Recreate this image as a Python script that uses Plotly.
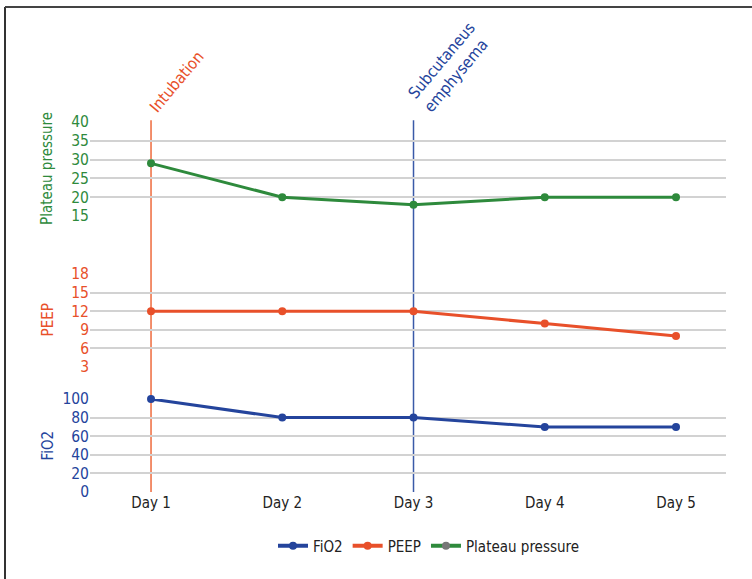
import plotly.graph_objects as go

days = ["Day 1", "Day 2", "Day 3", "Day 4", "Day 5"]
fio2 = [100, 80, 80, 70, 70]
peep = [12, 12, 12, 10, 8]
plateau = [29, 20, 18, 20, 20]

fio2_ticks = [0, 20, 40, 60, 80, 100]
peep_ticks = [3, 6, 9, 12, 15, 18]
plateau_ticks = [15, 20, 25, 30, 35, 40]

events = [("Day 1", "Intubation"), ("Day 3", "Subcutaneus<br>emphysema")]

BLUE = "#24449c"
RED = "#e8502a"
GREEN = "#2e8a3c"
FONT = "Liberation Sans Narrow, DejaVu Sans Condensed, Roboto Condensed, Arial Narrow, sans-serif"

W, H = 752, 579
L, R, T, B = 90, 26, 122, 87
ph = H - T - B  # 370
pw = W - L - R


def dom(top_px, bot_px):
    return [(H - B - bot_px) / ph, (H - B - top_px) / ph]


fig = go.Figure()
fig.add_trace(go.Scatter(x=days, y=fio2, mode="lines+markers", yaxis="y", cliponaxis=False,
                         line=dict(color=BLUE, width=3), marker=dict(size=8, color=BLUE),
                         showlegend=False))
fig.add_trace(go.Scatter(x=days, y=peep, mode="lines+markers", yaxis="y2", cliponaxis=False,
                         line=dict(color=RED, width=3), marker=dict(size=8, color=RED),
                         showlegend=False))
fig.add_trace(go.Scatter(x=days, y=plateau, mode="lines+markers", yaxis="y3", cliponaxis=False,
                         line=dict(color=GREEN, width=3), marker=dict(size=8, color=GREEN),
                         showlegend=False))
# legend entries
fig.add_trace(go.Scatter(x=[None], y=[None], mode="lines+markers", name="FiO2",
                         line=dict(color=BLUE, width=4), marker=dict(size=8, color=BLUE)))
fig.add_trace(go.Scatter(x=[None], y=[None], mode="lines+markers", name="PEEP",
                         line=dict(color=RED, width=4), marker=dict(size=8, color=RED)))
fig.add_trace(go.Scatter(x=[None], y=[None], mode="lines+markers", name="Plateau pressure",
                         line=dict(color=GREEN, width=4), marker=dict(size=8, color="#777777")))

grid = dict(showgrid=True, gridcolor="#d2d2d2", gridwidth=1.5, zeroline=False,
            showline=False, ticks="", fixedrange=True)

ann = []
for (d, txt), col in zip(events, [RED, BLUE]):
    ann.append(dict(x=d, xref="x", y=1, yref="paper", text=txt, showarrow=False,
                    textangle=-50, xanchor="left", yanchor="bottom", align="left",
                    xshift=-8 if col == RED else -12, yshift=3,
                    font=dict(family=FONT, size=16, color=col)))
for title, col, (t, b) in [("Plateau pressure", GREEN, (122, 216)),
                           ("PEEP", RED, (274, 367)),
                           ("FiO2", BLUE, (399, 492))]:
    ann.append(dict(x=(47 - L) / pw, xref="paper", y=((H - B - t) + (H - B - b)) / 2 / ph,
                    yref="paper", text=title, showarrow=False, textangle=-90,
                    xanchor="center", yanchor="middle",
                    font=dict(family=FONT, size=15, color=col)))

shapes = [
    dict(type="line", xref="x", yref="paper", x0="Day 1", x1="Day 1", y0=0, y1=1.005,
         line=dict(color="#ee6a3c", width=1.5), layer="below"),
    dict(type="line", xref="x", yref="paper", x0="Day 3", x1="Day 3", y0=0, y1=1.005,
         line=dict(color="#3a5aa8", width=1.5), layer="below"),
    dict(type="line", xref="paper", yref="paper", x0=(5 - L) / pw, x1=(5 - L) / pw,
         y0=(H - B - 7) / ph, y1=-0.5, line=dict(color="#333333", width=2)),
    dict(type="line", xref="paper", yref="paper", x0=(5 - L) / pw, x1=1.2,
         y0=(H - B - 7) / ph, y1=(H - B - 7) / ph, line=dict(color="#444444", width=2)),
]

fig.update_layout(
    width=W, height=H,
    margin=dict(l=L, r=R, t=T, b=B),
    paper_bgcolor="white", plot_bgcolor="white",
    font=dict(family=FONT, size=15, color="#222222"),
    xaxis=dict(type="category", categoryorder="array", categoryarray=days,
               range=[-0.465, 4.381], showgrid=False, zeroline=False, showline=False,
               ticks="", tickfont=dict(family=FONT, size=15, color="#222222"),
               fixedrange=True),
    yaxis=dict(domain=dom(399, 492), range=[0, 100], tickvals=fio2_ticks,
               tickfont=dict(family=FONT, size=15.5, color=BLUE), **grid),
    yaxis2=dict(domain=dom(274, 367), range=[3, 18], tickvals=peep_ticks,
                tickfont=dict(family=FONT, size=15.5, color=RED), **grid),
    yaxis3=dict(domain=dom(122, 216), range=[15, 40], tickvals=plateau_ticks,
                tickfont=dict(family=FONT, size=15.5, color=GREEN), **grid),
    legend=dict(orientation="h", x=(429 - L) / pw, xanchor="center",
                y=(H - B - 546) / ph, yanchor="middle", itemwidth=30,
                font=dict(family=FONT, size=15, color="#222222"), bgcolor="rgba(0,0,0,0)"),
    annotations=ann, shapes=shapes,
)

fig.write_html("out.html", config={"displayModeBar": False},
               post_script="document.body.style.margin='0';document.body.style.overflow='hidden';")
